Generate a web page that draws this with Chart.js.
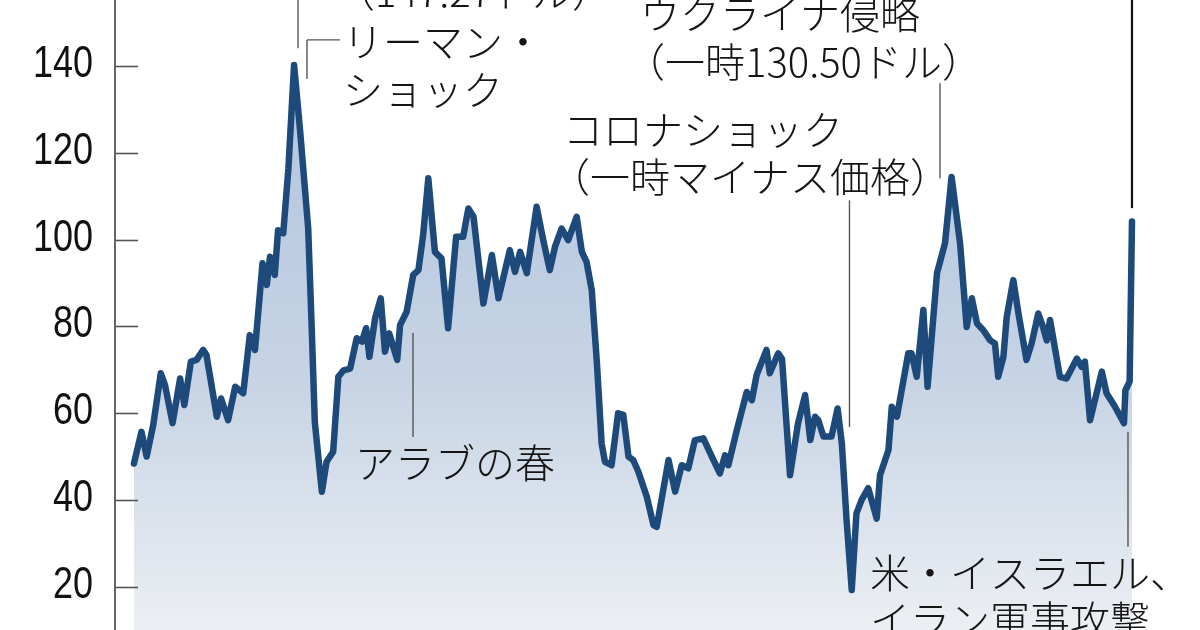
<!DOCTYPE html>
<html><head><meta charset="utf-8">
<script src="https://cdn.jsdelivr.net/npm/chart.js@4.4.1/dist/chart.umd.min.js"></script>
<style>html,body{margin:0;padding:0;background:#fff;overflow:hidden}#wrap{width:1200px;height:630px;position:relative}</style>
</head><body><div id="wrap"><canvas id="c" width="1200" height="630"></canvas></div>
<script>
// WTI crude oil price (USD / barrel), traced turning points, date as decimal year
const dates = [2005.02,2005.18,2005.29,2005.43,2005.59,2005.68,2005.84,2006.00,2006.09,2006.23,2006.35,2006.49,2006.56,2006.78,2006.87,2007.02,2007.17,2007.34,2007.48,2007.59,2007.75,2007.84,2007.91,2008.01,2008.08,2008.19,2008.30,2008.42,2008.55,2008.72,2008.79,2008.86,2009.01,2009.11,2009.25,2009.36,2009.47,2009.61,2009.75,2009.86,2009.95,2010.02,2010.14,2010.26,2010.35,2010.44,2010.61,2010.67,2010.81,2010.95,2011.06,2011.16,2011.27,2011.41,2011.55,2011.69,2011.86,2012.01,2012.12,2012.23,2012.44,2012.62,2012.76,2013.00,2013.11,2013.22,2013.36,2013.57,2013.71,2013.85,2013.96,2014.10,2014.24,2014.42,2014.53,2014.63,2014.74,2014.85,2014.95,2015.02,2015.16,2015.30,2015.41,2015.52,2015.62,2015.73,2015.91,2016.05,2016.12,2016.37,2016.51,2016.65,2016.79,2016.93,2017.11,2017.29,2017.46,2017.57,2017.64,2017.82,2018.03,2018.14,2018.24,2018.45,2018.52,2018.70,2018.78,2018.95,2019.12,2019.27,2019.38,2019.48,2019.55,2019.66,2019.83,2019.96,2020.05,2020.15,2020.26,2020.36,2020.47,2020.61,2020.79,2020.86,2021.04,2021.11,2021.22,2021.32,2021.46,2021.53,2021.64,2021.78,2021.87,2022.07,2022.24,2022.38,2022.56,2022.70,2022.81,2022.92,2023.05,2023.20,2023.30,2023.37,2023.48,2023.55,2023.69,2023.80,2023.97,2024.08,2024.22,2024.32,2024.40,2024.47,2024.68,2024.82,2025.04,2025.14,2025.21,2025.32,2025.57,2025.67,2025.85,2026.04,2026.07,2026.16,2026.21];
const prices = [48.4,55.7,50.0,57.3,69.2,66.5,57.7,68.0,61.9,71.9,72.3,74.6,73.4,59.2,63.4,58.4,66.1,64.6,78.0,74.6,94.6,89.6,96.1,91.9,102.2,101.5,116.5,140.3,124.9,102.6,81.1,58.0,41.9,48.8,51.1,68.4,69.9,70.3,77.3,76.5,79.6,73.0,81.9,86.5,74.2,78.4,72.3,80.3,83.4,91.9,93.0,101.1,114.2,97.2,95.7,79.6,100.7,100.7,107.2,105.3,85.3,96.5,86.5,97.6,92.6,97.2,92.3,107.6,99.9,93.0,98.4,102.6,99.9,105.3,97.2,94.9,88.4,71.5,53.0,48.8,48.0,60.0,59.6,50.0,49.2,46.5,40.7,34.2,33.8,49.2,41.9,48.0,47.3,53.8,54.2,50.0,46.1,50.3,48.0,56.1,64.9,63.0,68.8,74.6,69.2,73.8,72.5,45.7,57.7,64.2,53.8,59.2,58.4,54.6,54.6,61.1,53.0,35.4,19.2,36.9,40.0,42.7,35.7,45.7,51.5,61.5,59.2,65.3,73.8,73.8,68.4,83.8,66.1,92.3,99.2,114.5,99.2,79.9,86.5,80.7,79.2,76.8,76.1,68.4,73.0,82.2,90.7,83.0,72.3,76.1,83.0,79.9,76.8,81.5,68.4,68.0,72.6,70.7,71.9,58.4,69.6,64.6,61.5,57.7,65.3,67.3,104.2];
const yTicks = [20,40,60,80,100,120,140];
const xRange = [2004.618, 2027.654];
const yRange = [10, 155.3];

// annotation texts
const noteTexts = ["（147.27ドル）","リーマン・","ショック","ウクライナ侵略","（一時130.50ドル）","コロナショック","（一時マイナス価格）","アラブの春","米・イスラエル、","イラン軍事攻撃"];
// leader lines in data coordinates: [x1,y1,x2,y2]
const leaders = [
  [2008.503,155.3,2008.503,144.2],
  [2008.694,146.1,2008.694,137.1],
  [2008.694,146.1,2009.395,146.1],
  [2010.945,78.5,2010.945,54.5],
  [2020.212,109.1,2020.212,56.8],
  [2022.134,136.1,2022.134,114.2],
  [2026.125,55.7,2026.125,29.2]
];
const latestLeader = [2026.210,155.3,2026.210,107.3];

// text layout (pixels)
const noteLayout = [[335,-8],[343,42],[343,90],[640,14],[625,62],[563,130],[550,177],[355,463],[870,573],[870,620]];

const ctx = document.getElementById('c').getContext('2d');

const overlay = {
  id:'overlay',
  afterDatasetsDraw(chart){
    const c = chart.ctx, xs = chart.scales.x, ys = chart.scales.y, a = chart.chartArea;
    c.save();
    // inward tick marks + tick labels (positions from the y scale)
    c.strokeStyle = '#555'; c.lineWidth = 1.6;
    c.fillStyle = '#111';
    c.textBaseline = 'middle'; c.textAlign = 'right';
    c.font = '45px "Liberation Sans", Arial, sans-serif';
    yTicks.forEach(v=>{
      const y = Math.round(ys.getPixelForValue(v))+0.5;
      c.beginPath(); c.moveTo(a.left, y); c.lineTo(a.left+23, y); c.stroke();
      c.save();
      c.translate(a.left-22, y-2);
      c.scale(0.8, 1);
      c.fillText(String(v), 0, 0);
      c.restore();
    });
    // leader lines
    c.strokeStyle = '#555'; c.lineWidth = 1.4;
    leaders.forEach(l=>{
      c.beginPath();
      c.moveTo(xs.getPixelForValue(l[0]), ys.getPixelForValue(l[1]));
      c.lineTo(xs.getPixelForValue(l[2]), ys.getPixelForValue(l[3]));
      c.stroke();
    });
    c.strokeStyle = '#111'; c.lineWidth = 2.2;
    c.beginPath();
    c.moveTo(xs.getPixelForValue(latestLeader[0]), ys.getPixelForValue(latestLeader[1]));
    c.lineTo(xs.getPixelForValue(latestLeader[2]), ys.getPixelForValue(latestLeader[3]));
    c.stroke();
    // texts
    c.fillStyle = '#151515';
    c.font = '300 40px "Noto Sans CJK JP", sans-serif';
    c.textBaseline = 'middle'; c.textAlign = 'left';
    noteTexts.forEach((t,i)=>{ c.fillText(t, noteLayout[i][0], noteLayout[i][1]); });
    c.restore();
  }
};

new Chart(ctx, {
  type:'line',
  data:{ datasets:[{
    data: dates.map((d,i)=>({x:d, y:prices[i]})),
    borderColor:'#1d4a7a',
    borderWidth:6.5,
    borderJoinStyle:'round',
    borderCapStyle:'round',
    pointRadius:0,
    tension:0,
    fill:'start',
    backgroundColor:(cx)=>{
      const a = cx.chart.chartArea;
      if(!a) return '#c8d5e6';
      const g = cx.chart.ctx.createLinearGradient(0, 60, 0, a.bottom);
      g.addColorStop(0,'#b0c4de');
      g.addColorStop(0.55,'#c6d3e4');
      g.addColorStop(1,'#eceff3');
      return g;
    }
  }]},
  options:{
    responsive:false,
    animation:false,
    devicePixelRatio:1,
    layout:{padding:0},
    plugins:{legend:{display:false}, tooltip:{enabled:false}},
    scales:{
      x:{type:'linear', min:xRange[0], max:xRange[1], display:false},
      y:{
        min:yRange[0], max:yRange[1],
        afterFit:(s)=>{ s.width = 115; s.paddingTop = 0; s.paddingBottom = 0; },
        afterBuildTicks:(s)=>{ s.ticks = yTicks.map(v=>({value:v})); },
        grid:{drawOnChartArea:false, drawTicks:false},
        border:{display:true, color:'#666', width:2},
        ticks:{display:false}
      }
    }
  },
  plugins:[overlay]
});
</script></body></html>
